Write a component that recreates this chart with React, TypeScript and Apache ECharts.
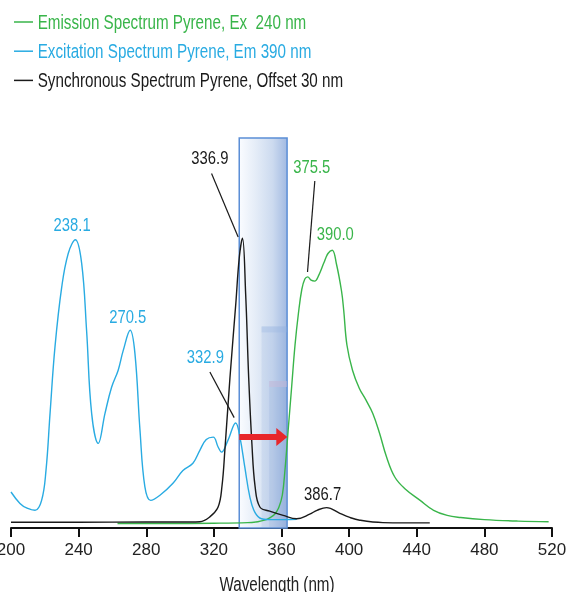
import React, { useEffect, useRef } from "react";
import * as echarts from "echarts";

// Wavelength axis ticks (nm)
const WAVELENGTH_TICKS = [200, 240, 280, 320, 360, 400, 440, 480, 520];
const AXIS_TITLE = "Wavelength (nm)";

// Spectra: [wavelength nm, relative intensity]
const emission: [number, number][] = [
  [263, 1.5], [290, 1.5], [320, 1.6], [340, 1.8], [346, 2.1], [350, 2.6], [353, 3.4],
  [356, 4.6], [358.5, 7], [360.5, 11], [362, 19], [364, 33], [366, 47], [368, 61],
  [370, 71.5], [372, 79.5], [373.8, 83], [375.5, 83.7], [377.5, 82.6], [379.6, 82.3],
  [382, 84.2], [385, 88.3], [387.5, 91.5], [390, 92.6], [392.5, 88], [395.5, 79],
  [396.8, 72.6], [398.7, 61], [402, 52.6], [406, 46.6], [410, 42.6], [414, 38.2],
  [418, 31.6], [422, 23.9], [427, 17], [433, 13.1], [442, 9.2], [450, 5.9], [458, 4.2],
  [466, 3.5], [480, 2.8], [500, 2.3], [518, 2.1],
];

const excitation: [number, number][] = [
  [200, 12.0], [205.3, 8.2], [209.5, 6.6], [214.2, 5.9], [218.1, 9.2], [220.7, 19.2],
  [223.1, 38.2], [226, 60.3], [230, 80.3], [233.9, 91.6], [238.1, 96.1], [241.8, 88.2],
  [244.7, 65.9], [247.7, 38.2], [251.6, 28.2], [255.6, 38.2], [259.5, 46.9], [263.4, 52.6],
  [266.4, 59.2], [270.5, 65.9], [273.3, 58.2], [276.3, 32.6], [279.2, 13.7], [282.6, 9.2],
  [288.1, 10.9], [295.8, 14.9], [301.7, 19.2], [307.6, 21.6], [311.7, 25.9], [315.5, 29.5],
  [319.6, 30.3], [322.5, 27], [324.5, 25.3], [328.3, 29.2], [332.9, 35.0], [335.4, 30.3],
  [338.3, 20.3], [341.3, 10.3], [344.2, 5.3], [348.2, 3.1], [355, 2.8], [362, 2.8], [369, 2.9],
];

const synchronous: [number, number][] = [
  [200, 1.9], [240, 1.9], [280, 2.0], [300, 2.0], [311.7, 2.1], [317.6, 3.7], [322.5, 7.0],
  [324.8, 14], [326.5, 25.9], [329.5, 50], [333, 75], [335, 90], [336.9, 96.6], [338.8, 78],
  [340.6, 50], [342.5, 28], [344.4, 13.7], [347.2, 7], [353, 5.6], [361, 4.2], [369, 3.1],
  [376.7, 4.6], [381, 5.9], [386.7, 6.8], [394.5, 4.9], [400, 3.6], [406.3, 2.6], [420, 1.8],
  [447.7, 1.7],
];

// Labelled maxima (nm)
const emissionPeaks = [375.5, 390.0];
const excitationPeaks = [238.1, 270.5, 332.9];
const synchronousPeaks = [336.9, 386.7];

// Synchronous scan window and the offset arrow (nm), arrow height (intensity)
const scanWindow = [335, 363.3];
const arrowSpan = [335, 360.2];
const arrowLevel = 30.3;

const GREEN = "#39b54a";
const BLUE = "#29abe2";
const BLACK = "#1a1a1a";
const FONT = "'Liberation Sans', Arial, sans-serif";
const NARROW = 0.78; // horizontal squeeze for a condensed look

const EMISSION = "Emission Spectrum Pyrene, Ex  240 nm";
const EXCITATION = "Excitation Spectrum Pyrene, Em 390 nm";
const SYNCHRONOUS = "Synchronous Spectrum Pyrene, Offset 30 nm";

const legendItems = [
  { name: EMISSION, color: GREEN },
  { name: EXCITATION, color: BLUE },
  { name: SYNCHRONOUS, color: BLACK },
];

// label offsets (px) from each peak; optional leader line [x1, y1, x2, y2]
type Placement = { dx: number; dy: number; line?: [number, number, number, number] };
const placements: Record<string, Placement> = {
  "238.1": { dx: -3.3, dy: -15.2 },
  "270.5": { dx: -2.5, dy: -13.7 },
  "332.9": { dx: -30.3, dy: -65.7, line: [-25.8, -51, -1.5, -5.4] },
  "336.9": { dx: -32.6, dy: -80.1, line: [-30.9, -64.6, -4.3, -1.2] },
  "375.5": { dx: 4.1, dy: -110.3, line: [7.1, -95.9, -0.2, -4.9] },
  "390.0": { dx: 3.1, dy: -16.1 },
  "386.7": { dx: -4, dy: -14 },
};

const condensedText = (
  text: string, x: number, y: number, color: string, fontSize: number, align: string
) => ({
  type: "text",
  x,
  y,
  z: 10,
  scaleX: NARROW,
  style: {
    text,
    fill: color,
    fontSize,
    fontFamily: FONT,
    align,
    verticalAlign: "middle",
    textAlign: align,
    textVerticalAlign: "middle",
  },
});

export default function App() {
  const ref = useRef<HTMLDivElement>(null);

  useEffect(() => {
    const chart = echarts.init(ref.current!, null, { renderer: "svg" });

    const line = (name: string, data: [number, number][], color: string) => ({
      name,
      type: "line",
      data,
      z: 3,
      smooth: 0.4,
      showSymbol: false,
      symbol: "none",
      lineStyle: { color, width: 1.4 },
      itemStyle: { color },
      emphasis: { disabled: true },
    });

    const [w0, w1] = scanWindow;

    chart.setOption({
      animation: false,
      textStyle: { fontFamily: FONT },
      grid: { left: 11, right: 16, top: 138, bottom: 64, outerBoundsMode: "none" },
      xAxis: {
        type: "value",
        min: WAVELENGTH_TICKS[0],
        max: WAVELENGTH_TICKS[WAVELENGTH_TICKS.length - 1],
        interval: WAVELENGTH_TICKS[1] - WAVELENGTH_TICKS[0],
        axisLine: { show: true, onZero: false, lineStyle: { color: "#111", width: 2 } },
        axisTick: { show: true, length: 9, lineStyle: { color: "#111", width: 2 } },
        axisLabel: { fontSize: 17, color: "#222", margin: 13, fontFamily: FONT },
        splitLine: { show: false },
      },
      yAxis: { type: "value", min: 0, max: 130, show: false },
      series: [
        {
          name: "window",
          type: "line",
          data: [],
          z: 1,
          silent: true,
          markArea: {
            silent: true,
            data: [
              [
                {
                  xAxis: w0,
                  yAxis: 0,
                  itemStyle: {
                    color: new echarts.graphic.LinearGradient(0, 0, 1, 0, [
                      { offset: 0, color: "#fafcff" },
                      { offset: 0.35, color: "#e4ecf7" },
                      { offset: 0.7, color: "#ccdaef" },
                      { offset: 1, color: "#a2bae2" },
                    ]),
                    borderColor: "#5b8ed6",
                    borderWidth: 1.5,
                  },
                },
                { xAxis: w1, yAxis: 130 },
              ],
              [
                { xAxis: 348.2, yAxis: 0, itemStyle: { color: "rgba(120,158,214,0.14)" } },
                { xAxis: w1, yAxis: 67.2 },
              ],
              [
                { xAxis: 348.2, yAxis: 65.2, itemStyle: { color: "rgba(150,180,226,0.3)" } },
                { xAxis: w1, yAxis: 67.2 },
              ],
              [
                { xAxis: 352.7, yAxis: 0, itemStyle: { color: "rgba(110,148,208,0.14)" } },
                { xAxis: w1, yAxis: 49 },
              ],
              [
                { xAxis: 352.7, yAxis: 47, itemStyle: { color: "rgba(206,186,216,0.45)" } },
                { xAxis: w1, yAxis: 49 },
              ],
            ],
          },
        },
        {
          name: "shift",
          type: "line",
          data: [],
          z: 2,
          silent: true,
          markLine: {
            silent: true,
            symbol: ["none", "triangle"],
            symbolSize: [18, 11],
            label: { show: false },
            lineStyle: { color: "#e8262a", width: 6, type: "solid" },
            emphasis: { disabled: true },
            data: [
              [
                { coord: [arrowSpan[0], arrowLevel] },
                { coord: [arrowSpan[1], arrowLevel] },
              ],
            ],
          },
        },
        line(EMISSION, emission, GREEN),
        line(EXCITATION, excitation, BLUE),
        line(SYNCHRONOUS, synchronous, BLACK),
      ],
    });

    const graphics: any[] = [];

    // legend: short coloured rule and condensed caption per spectrum
    legendItems.forEach((item, i) => {
      const cy = 22 + i * 29.2;
      graphics.push({
        type: "line",
        shape: { x1: 14, y1: cy, x2: 33, y2: cy },
        style: { stroke: item.color, lineWidth: 1.5 },
      });
      graphics.push(condensedText(item.name, 37.7, cy, item.color, 19.5, "left"));
    });

    // axis title under the tick labels
    graphics.push(condensedText(AXIS_TITLE, 277, 584, "#222", 19.5, "center"));

    // peak annotations placed from the data points
    const annotate = (data: [number, number][], peaks: number[], color: string) => {
      peaks.forEach((nm) => {
        const pt = data.find((d) => d[0] === nm);
        if (!pt) return;
        const [px, py] = chart.convertToPixel({ gridIndex: 0 }, pt) as number[];
        const key = nm.toFixed(1);
        const p = placements[key];
        if (!p) return;
        graphics.push(condensedText(key, px + p.dx, py + p.dy, color, 19, "center"));
        if (p.line) {
          graphics.push({
            type: "line",
            z: 10,
            shape: { x1: px + p.line[0], y1: py + p.line[1], x2: px + p.line[2], y2: py + p.line[3] },
            style: { stroke: BLACK, lineWidth: 1.2 },
          });
        }
      });
    };
    annotate(excitation, excitationPeaks, BLUE);
    annotate(emission, emissionPeaks, GREEN);
    annotate(synchronous, synchronousPeaks, BLACK);
    chart.setOption({ graphic: graphics });

    return () => chart.dispose();
  }, []);

  return (
    <div
      ref={ref}
      style={{ position: "fixed", left: 0, top: 0, width: 568, height: 592 }}
    />
  );
}
